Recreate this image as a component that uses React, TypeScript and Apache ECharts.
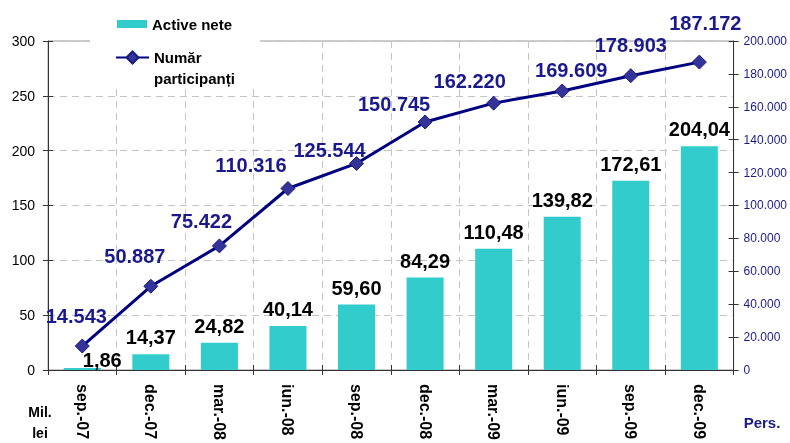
import React, { useEffect, useRef } from 'react';
import * as echarts from 'echarts';

const categories = ['sep.-07', 'dec.-07', 'mar.-08', 'iun.-08', 'sep.-08', 'dec.-08', 'mar.-09', 'iun.-09', 'sep.-09', 'dec.-09'];
const activeNete = [1.86, 14.37, 24.82, 40.14, 59.6, 84.29, 110.48, 139.82, 172.61, 204.04];
const participanti = [14543, 50887, 75422, 110316, 125544, 150745, 162220, 169609, 178903, 187172];

// label placement tweaks (style only)
const lineLabelOffsets = [[-6, -30], [-16, -30], [-18, -25], [-37, -24], [-27, -13], [-31, -18], [-24, -22], [9, -21], [0, -31], [6, -39]];
const barLabelOffsets = [[20, 9], [0, 0], [0, 0], [0, 0], [0, 0], [0, 0], [0, 0], [0, 0], [0, 0], [0, 0]];

const FONT = '"Liberation Sans", Arial, sans-serif';
const NAVY = '#1a1a8c';

const dots = (v: number) => String(v).replace(/\B(?=(\d{3})+(?!\d))/g, '.');

export default function App() {
  const ref = useRef<HTMLDivElement>(null);
  useEffect(() => {
    const chart = echarts.init(ref.current!, null, { renderer: 'svg' });
    const gridLine = { show: true, lineStyle: { color: '#c4c4c4', type: [7, 5] as any, width: 1 } };
    chart.setOption({
      animation: false,
      textStyle: { fontFamily: FONT },
      grid: { left: 48, right: 55, top: 41, bottom: 71, show: true, borderColor: '#9a9a9a', borderWidth: 1 },
      legend: [
        {
          data: ['Active nete'],
          left: 117, top: 15, padding: 0, itemWidth: 30, itemHeight: 8, icon: 'rect',
          selectedMode: false,
          textStyle: { fontSize: 15, fontWeight: 'bold', color: '#000', lineHeight: 18, fontFamily: FONT },
        },
        {
          data: ['Număr participanți'],
          left: 115, top: 26, padding: 0, itemWidth: 33, itemHeight: 15,
          selectedMode: false,
          formatter: (n: string) => '\n' + n.replace(' ', '\n'),
          textStyle: { fontSize: 15, fontWeight: 'bold', color: '#000', lineHeight: 21, fontFamily: FONT },
        },
      ],
      xAxis: [
        {
          type: 'category', data: categories, boundaryGap: true, position: 'bottom',
          axisLine: { lineStyle: { color: '#333', width: 1 } },
          axisTick: { show: true, length: 5, lineStyle: { color: '#333' } },
          axisLabel: { rotate: -90, margin: 14, fontSize: 16, fontWeight: 'bold', color: '#000', fontFamily: FONT, interval: 0 },
          splitLine: gridLine,
        },
        {
          type: 'category', data: categories, boundaryGap: true, position: 'bottom',
          axisLine: { show: false },
          axisTick: { show: true, inside: true, length: 5, lineStyle: { color: '#333' } },
          axisLabel: { show: false },
          splitLine: { show: false },
        },
      ],
      yAxis: [
        {
          type: 'value', min: 0, max: 300, interval: 50, position: 'left',
          axisLine: { show: true, lineStyle: { color: '#333' } },
          axisTick: { show: true, length: 5, lineStyle: { color: '#333' } },
          axisLabel: { fontSize: 14, color: '#000', margin: 13, fontFamily: FONT },
          splitLine: gridLine,
        },
        {
          type: 'value', min: 0, max: 200000, interval: 20000, position: 'right',
          axisLine: { show: true, lineStyle: { color: '#333' } },
          axisTick: { show: true, length: 5, lineStyle: { color: '#333' } },
          axisLabel: { fontSize: 12, color: NAVY, margin: 10, fontFamily: FONT, formatter: (v: number) => dots(v) },
          splitLine: { show: false },
        },
        {
          type: 'value', min: 0, max: 300, interval: 50, position: 'left',
          axisLine: { show: false },
          axisTick: { show: true, inside: true, length: 5, lineStyle: { color: '#333' } },
          axisLabel: { show: false },
          splitLine: { show: false },
        },
        {
          type: 'value', min: 0, max: 200000, interval: 20000, position: 'right',
          axisLine: { show: false },
          axisTick: { show: true, inside: true, length: 5, lineStyle: { color: '#333' } },
          axisLabel: { show: false },
          splitLine: { show: false },
        },
      ],
      series: [
        {
          name: 'Active nete',
          type: 'bar',
          yAxisIndex: 0,
          barWidth: '54%',
          itemStyle: { color: '#33CCCC' },
          data: activeNete.map((v, i) => ({ value: v, label: { offset: barLabelOffsets[i] } })),
          label: {
            show: true, position: 'top', distance: 7, fontSize: 20, fontWeight: 'bold', color: '#000', lineHeight: 20, fontFamily: FONT,
            formatter: (p: any) => Number(p.value).toFixed(2).replace('.', ','),
          },
        },
        {
          name: 'Număr participanți',
          type: 'line',
          yAxisIndex: 1,
          symbol: 'diamond',
          symbolSize: 14,
          lineStyle: { color: '#000080', width: 3 },
          itemStyle: { color: '#333399', borderColor: '#1a1a80', borderWidth: 1 },
          data: participanti.map((v, i) => ({ value: v, label: { offset: lineLabelOffsets[i] } })),
          label: {
            show: true, position: 'inside', fontSize: 20, fontWeight: 'bold', color: NAVY, fontFamily: FONT,
            formatter: (p: any) => dots(Number(p.value)),
          },
          z: 3,
        },
      ],
      graphic: [
        { type: 'rect', z: 3, silent: true, shape: { x: 90, y: 30, width: 170, height: 55 }, style: { fill: '#fff' } },
        { type: 'text', x: 40, y: 422, style: { text: 'Mil.\nlei', font: `bold 14px ${FONT}`, fill: '#000', align: 'center', verticalAlign: 'middle', lineHeight: 21 } },
        { type: 'text', x: 762, y: 422, style: { text: 'Pers.', font: `bold 15px ${FONT}`, fill: NAVY, align: 'center', verticalAlign: 'middle' } },
      ],
    });
    return () => chart.dispose();
  }, []);
  return <div ref={ref} style={{ position: 'fixed', left: 0, top: 0, width: 790, height: 443 }} />;
}
